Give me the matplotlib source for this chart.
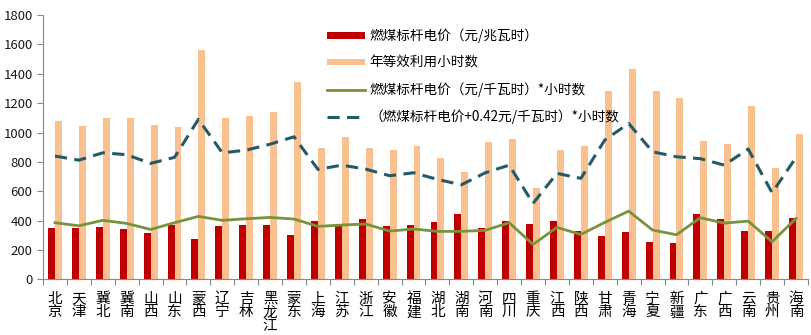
import numpy as np
import matplotlib.pyplot as plt

plt.rcParams['font.family'] = ['Noto Sans CJK SC', 'DejaVu Sans']

# provinces / grids
regions = ['北京', '天津', '冀北', '冀南', '山西', '山东', '蒙西', '辽宁', '吉林', '黑龙江',
           '蒙东', '上海', '江苏', '浙江', '安徽', '福建', '湖北', '湖南', '河南', '四川',
           '重庆', '江西', '陕西', '甘肃', '青海', '宁夏', '新疆', '广东', '广西', '云南',
           '贵州', '海南']

# coal benchmark price (yuan/MWh)
coal_price = [352, 352, 356, 343, 318, 370, 277, 363, 370, 370,
              302, 397, 378, 410, 363, 370, 392, 447, 352, 397,
              379, 399, 329, 295, 324, 256, 247, 445, 410, 331,
              331, 417]

# annual equivalent utilisation hours
hours = [1078, 1044, 1100, 1100, 1051, 1037, 1561, 1100, 1112, 1139,
         1346, 896, 971, 896, 880, 910, 830, 733, 937, 957,
         624, 880, 910, 1284, 1432, 1284, 1235, 942, 921, 1180,
         760, 989]

# price (yuan/kWh) * hours
income = [386, 365, 402, 381, 340, 386, 429, 402, 413, 422,
          411, 361, 370, 377, 329, 343, 327, 327, 334, 386,
          238, 354, 306, 388, 465, 336, 304, 420, 383, 397,
          256, 415]

# (price + 0.42 yuan/kWh) * hours
income_sub = [840, 812, 862, 849, 790, 831, 1090, 862, 880, 921,
              971, 749, 778, 751, 706, 726, 681, 644, 726, 778,
              518, 722, 688, 949, 1062, 869, 835, 822, 778, 888,
              590, 830]

x = np.arange(len(regions))
w = 0.29

fig = plt.figure(figsize=(8.12, 3.35), dpi=100)
ax = fig.add_axes([0.053, 0.166, 0.942, 0.789])

b1 = ax.bar(x - w / 2, coal_price, w, color='#C00000', label='燃煤标杆电价（元/兆瓦时）', zorder=2)
b2 = ax.bar(x + w / 2, hours, w, color='#FAC08F', label='年等效利用小时数', zorder=2)
l1, = ax.plot(x, income, color='#77933C', lw=2.0, label='燃煤标杆电价（元/千瓦时）*小时数', zorder=3)
l2, = ax.plot(x, income_sub, color='#245A68', lw=2.2, dashes=(4, 2.4),
              label='（燃煤标杆电价+0.42元/千瓦时）*小时数', zorder=3)

ax.set_xlim(-0.5, len(regions) - 0.5)
ax.set_ylim(0, 1800)
ax.set_yticks(np.arange(0, 1801, 200))
ax.tick_params(axis='y', labelsize=9.5, colors='#1a1a1a', length=4, color='#888888')

# category boundaries carry the tick marks, labels sit in the middle
ax.set_xticks(np.arange(-0.5, len(regions), 1.0))
ax.set_xticklabels([])
ax.tick_params(axis='x', length=4, color='#888888')
ax.set_xticks(x, minor=True)
ax.set_xticklabels(['\n'.join(r) for r in regions], minor=True, fontsize=10.5,
                   linespacing=0.95, va='top')
ax.tick_params(axis='x', which='minor', length=0, pad=9)

for s in ['top', 'right']:
    ax.spines[s].set_visible(False)
ax.spines['left'].set_color('#888888')
ax.spines['bottom'].set_color('#888888')

ax.legend(handles=[b1, b2, l1, l2], loc='upper left', bbox_to_anchor=(0.355, 0.995),
          frameon=False, fontsize=9.8, handlelength=2.8, handleheight=0.4,
          labelspacing=0.92, handletextpad=0.3)

fig.savefig('out.png', dpi=100)
